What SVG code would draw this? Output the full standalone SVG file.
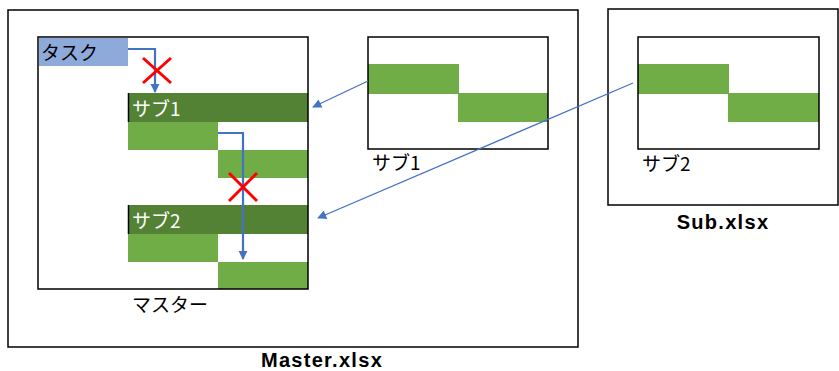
<svg xmlns="http://www.w3.org/2000/svg" width="839" height="371" viewBox="0 0 839 371">
<defs>
<style>
.box{fill:none;stroke:#000;stroke-width:1.5}
.lg{fill:#70ad47}
.dg{fill:#548235}
.jp{font-family:"Noto Sans CJK JP","Noto Sans",sans-serif;font-size:19px;fill:#000}
.wt{fill:#fff}
.bold{font-family:"Liberation Sans","DejaVu Sans",sans-serif;font-weight:bold;font-size:20px;letter-spacing:1.3px;fill:#000}
.conn{fill:none;stroke:#4472c4;stroke-width:2.2}
.thin{fill:none;stroke:#4472c4;stroke-width:1.3}
.x{stroke:#ff0000;stroke-width:3;fill:none}
</style>
<marker id="ah" viewBox="0 0 10 10" refX="9" refY="5" markerWidth="4.2" markerHeight="4.2" orient="auto" markerUnits="strokeWidth"><path d="M0,0 L10,5 L0,10 z" fill="#4472c4"/></marker>
<marker id="ah2" viewBox="0 0 10 10" refX="9" refY="5" markerWidth="8" markerHeight="7" orient="auto" markerUnits="strokeWidth"><path d="M0,0 L10,5 L0,10 z" fill="#4472c4"/></marker>
</defs>
<rect width="839" height="371" fill="#fff"/>
<g id="master-file">
<rect class="box" x="8" y="10" width="570" height="337"/>
<text class="bold" x="322" y="367" text-anchor="middle">Master.xlsx</text>
</g>
<g id="master-sheet">
<rect x="39" y="38" width="89" height="28" fill="#8eaadb"/>
<text class="jp" x="41" y="60">タスク</text>
<rect class="dg" x="128" y="93" width="180" height="29"/>
<line x1="128.5" y1="93" x2="128.5" y2="122" stroke="#000" stroke-width="1.5"/>
<text class="jp wt" x="132" y="116">サブ1</text>
<rect class="lg" x="128" y="122" width="90" height="28"/>
<rect class="lg" x="218" y="150" width="90" height="28"/>
<rect class="dg" x="128" y="205" width="180" height="29"/>
<line x1="128.5" y1="205" x2="128.5" y2="234" stroke="#000" stroke-width="1.5"/>
<text class="jp wt" x="132" y="228">サブ2</text>
<rect class="lg" x="128" y="234" width="90" height="28"/>
<rect class="lg" x="218" y="262" width="90" height="27"/>
<rect class="box" x="38" y="37" width="270" height="252"/>
<text class="jp" x="132" y="312">マスター</text>
</g>
<g id="sub1-sheet">
<rect class="lg" x="368" y="64" width="91" height="30"/>
<rect class="lg" x="458" y="93" width="90" height="29"/>
<rect class="box" x="368" y="37" width="180" height="112"/>
<text class="jp" x="372" y="170">サブ1</text>
</g>
<g id="sub-file">
<rect class="box" x="608" y="9" width="230" height="196"/>
<text class="bold" x="723" y="229" text-anchor="middle">Sub.xlsx</text>
</g>
<g id="sub2-sheet">
<rect class="lg" x="638" y="64" width="91" height="30"/>
<rect class="lg" x="728" y="93" width="91" height="29"/>
<rect class="box" x="638" y="37" width="181" height="112"/>
<text class="jp" x="642" y="171">サブ2</text>
</g>
<g id="connectors">
<path class="conn" d="M128,49 H155 V92" marker-end="url(#ah)"/>
<path class="conn" d="M218,133 H243 V259" marker-end="url(#ah)"/>
<line class="thin" x1="368" y1="81" x2="313" y2="107" marker-end="url(#ah2)"/>
<line class="thin" x1="633" y1="83" x2="318" y2="218" marker-end="url(#ah2)"/>
</g>
<g id="blocked-marks">
<path class="x" d="M143,58 L171,83 M171,58 L143,83"/>
<path class="x" d="M229,173 L257,201 M257,173 L229,201"/>
</g>
</svg>
